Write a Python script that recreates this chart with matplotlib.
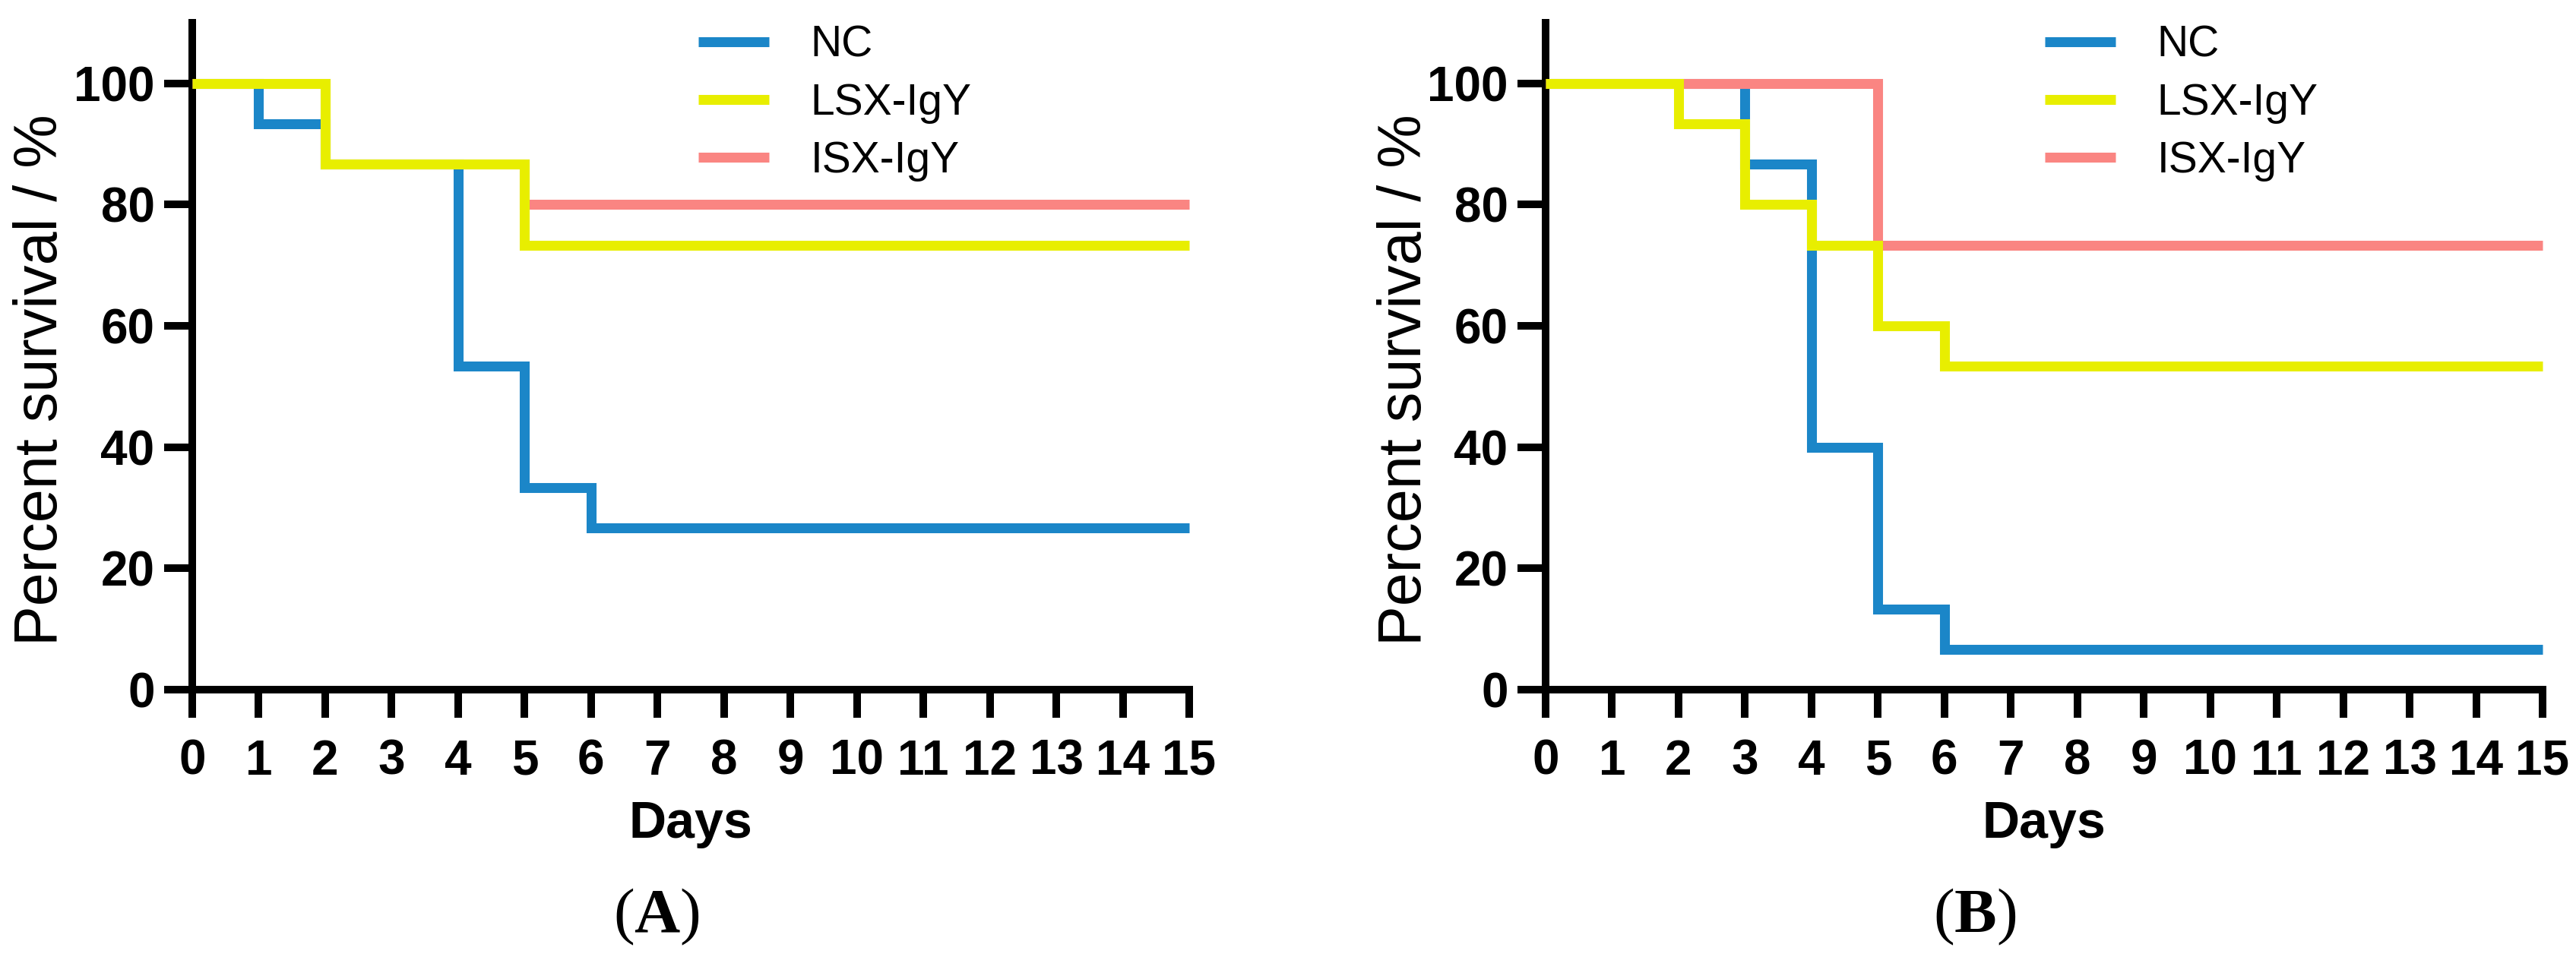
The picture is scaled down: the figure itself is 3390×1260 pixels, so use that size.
import matplotlib
matplotlib.use('Agg')
import matplotlib.pyplot as plt

plt.rcParams['font.family'] = ['Liberation Sans', 'DejaVu Sans']
plt.rcParams['mathtext.fontset'] = 'custom'
plt.rcParams['mathtext.rm'] = 'Liberation Serif'
plt.rcParams['mathtext.bf'] = 'Liberation Serif:bold'

# survival data (percent), step changes
groups = ['NC', 'LSX-IgY', 'ISX-IgY']

a_nc_days = [0, 1, 2, 4, 5, 6, 15]
a_nc = [100, 93.33, 86.67, 53.33, 33.33, 26.67, 26.67]
a_lsx_days = [0, 2, 5, 15]
a_lsx = [100, 86.67, 73.33, 73.33]
a_isx_days = [0, 2, 5, 15]
a_isx = [100, 86.67, 80, 80]

b_nc_days = [0, 3, 4, 5, 6, 15]
b_nc = [100, 86.67, 40, 13.33, 6.67, 6.67]
b_lsx_days = [0, 2, 3, 4, 5, 6, 15]
b_lsx = [100, 93.33, 80, 73.33, 60, 53.33, 53.33]
b_isx_days = [0, 5, 15]
b_isx = [100, 73.33, 73.33]

day_ticks = list(range(0, 16))
pct_ticks = [0, 20, 40, 60, 80, 100]

colors = {'NC': '#1b86c8', 'LSX-IgY': '#e8ee00', 'ISX-IgY': '#fa8582'}

W, H = 3391, 1260
fig = plt.figure(figsize=(W / 100, H / 100), dpi=100)

# axes boxes in pixels: left, right, top, bottom
boxes = [(253, 1565, 30, 908), (2034, 3346, 30, 908)]
ylab_x = [-0.1227, -0.112]
leg_x = [0.5076, 0.5008]
panel_lbl = [(864, '($\\mathbf{A}$)'), (2599, '($\\mathbf{B}$)')]

panels = [
    [(a_nc_days, a_nc), (a_lsx_days, a_lsx), (a_isx_days, a_isx)],
    [(b_nc_days, b_nc), (b_lsx_days, b_lsx), (b_isx_days, b_isx)],
]

lw_axis = 7.2
lw_line = 9.4

for i, series in enumerate(panels):
    l, r, t, b = boxes[i]
    ax = fig.add_axes([l / W, 1 - b / H, (r - l) / W, (b - t) / H])

    # draw order: NC, ISX, LSX (yellow ends up on top)
    handles = {}
    for name, (d, v) in zip(groups, series):
        z = {'NC': 2, 'ISX-IgY': 3, 'LSX-IgY': 4}[name]
        ln, = ax.step(d, v, where='post', color=colors[name], lw=lw_line,
                      solid_capstyle='butt', solid_joinstyle='miter',
                      zorder=z, clip_on=False, label=name)
        handles[name] = ln

    ax.set_xlim(0, 15)
    ax.set_ylim(0, 110)
    ax.set_xticks(day_ticks)
    ax.set_yticks(pct_ticks)
    for s in ['top', 'right']:
        ax.spines[s].set_visible(False)
    for s in ['left', 'bottom']:
        ax.spines[s].set_linewidth(lw_axis)
        ax.spines[s].set_capstyle('projecting')
    ax.tick_params(axis='both', direction='out', length=26.6, width=lw_axis,
                   labelsize=46)
    ax.tick_params(axis='x', pad=20)
    ax.tick_params(axis='y', pad=9)
    for lab in ax.get_xticklabels() + ax.get_yticklabels():
        lab.set_fontweight('bold')

    ax.set_ylabel('Percent survival / %', fontsize=57)
    ax.yaxis.set_label_coords(ylab_x[i], 0.465)
    ax.set_xlabel('Days', fontsize=49, fontweight='bold')
    ax.xaxis.set_label_coords(0.5, -0.165)

    leg = ax.legend([handles[g] for g in groups], groups, loc='upper left',
                    bbox_to_anchor=(leg_x[i], 0.997), frameon=False,
                    fontsize=41, handlelength=1.63, handletextpad=0.96,
                    labelspacing=0.39, borderpad=0, borderaxespad=0)

    x, txt = panel_lbl[i]
    fig.text(x / W, 1 - 1207 / H, txt, fontsize=60, ha='center', va='center',
             family='Liberation Serif')

fig.savefig('out.png', dpi=100)
